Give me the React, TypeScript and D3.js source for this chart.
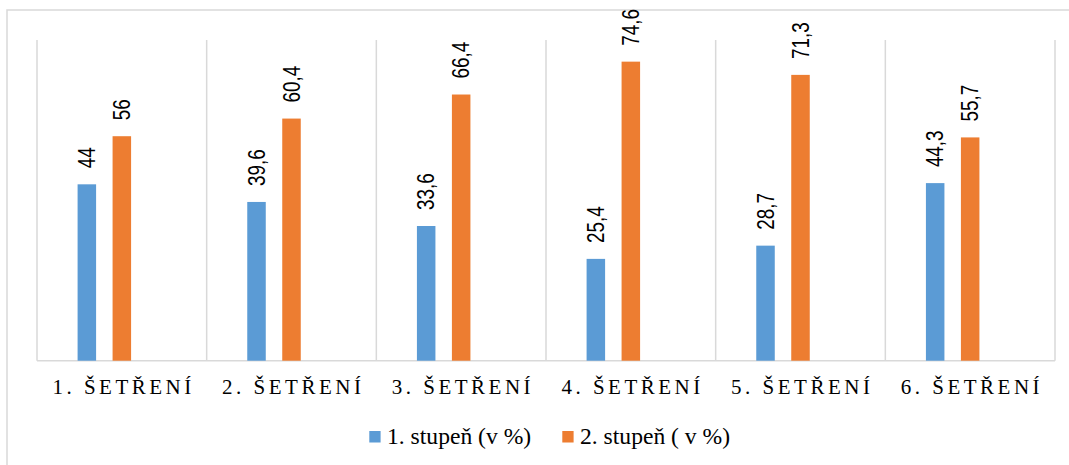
import React from "react";
import * as d3 from "d3";

const categories = ["1. ŠETŘENÍ", "2. ŠETŘENÍ", "3. ŠETŘENÍ", "4. ŠETŘENÍ", "5. ŠETŘENÍ", "6. ŠETŘENÍ"];
const series1 = [44, 39.6, 33.6, 25.4, 28.7, 44.3];
const series2 = [56, 60.4, 66.4, 74.6, 71.3, 55.7];
const seriesNames = ["1. stupeň (v %)", "2. stupeň ( v %)"];
const seriesColors = ["#5B9BD5", "#ED7D31"];
const slots = ["s1", "s2", "s3"];

const W = 1069;
const H = 465;
const plotLeft = 37;
const plotRight = 1055;
const plotTop = 40;
const plotBottom = 360.7;

export default function App() {
  const x = d3.scaleBand<string>().domain(categories).range([plotLeft, plotRight]).padding(0);
  const inner = d3
    .scaleBand<string>()
    .domain(slots)
    .range([0, x.bandwidth()])
    .paddingInner(0.471)
    .paddingOuter(1.16);
  const y = d3.scaleLinear().domain([0, 80]).range([plotBottom, plotTop]);
  const bw = inner.bandwidth();
  const grid = "#d9d9d9";
  const fmt = (v: number) => String(v).replace(".", ",");
  const allSeries = [series1, series2];
  const boundaries = categories.map((c) => x(c)!).concat([plotRight]);
  const ls = 3.5;

  return (
    <svg
      width={W}
      height={H}
      style={{ position: "absolute", left: 0, top: 0, background: "#fff" }}
    >
      <rect x={7} y={10} width={1080} height={470} fill="#fff" stroke={grid} strokeWidth={1.5} />
      {boundaries.map((bx, i) => (
        <line key={"g" + i} x1={bx} x2={bx} y1={plotTop} y2={plotBottom} stroke={grid} strokeWidth={1.5} />
      ))}
      <line x1={plotLeft} x2={plotRight} y1={plotBottom} y2={plotBottom} stroke={grid} strokeWidth={1.5} />
      {allSeries.map((vals, si) =>
        categories.map((c, ci) => {
          const bx = x(c)! + inner(slots[si])!;
          const by = y(vals[ci]);
          const cx = bx + bw / 2;
          return (
            <g key={si + "-" + ci}>
              <rect x={bx} y={by} width={bw} height={plotBottom - by} fill={seriesColors[si]} />
              <text
                transform={`translate(${cx + 8.3},${by - 16}) rotate(-90) scale(0.82,1)`}
                fontFamily="'Liberation Sans', Arial, sans-serif"
                fontSize={23}
                fill="#000"
                textAnchor="start"
              >
                {fmt(vals[ci])}
              </text>
            </g>
          );
        })
      )}
      {categories.map((c) => (
        <text
          key={c}
          x={x(c)! + x.bandwidth() / 2 + ls / 2}
          y={394.3}
          textAnchor="middle"
          fontFamily="'Liberation Serif', 'Times New Roman', serif"
          fontSize={21}
          letterSpacing={ls}
          fill="#000"
        >
          {c}
        </text>
      ))}
      {seriesNames.map((n, i) => {
        const lx = i === 0 ? 369.3 : 562.3;
        return (
          <g key={n}>
            <rect x={lx} y={431} width={11.3} height={11.5} fill={seriesColors[i]} />
            <text
              x={lx + 17.7}
              y={444}
              fontFamily="'Liberation Serif', 'Times New Roman', serif"
              fontSize={23.6}
              fill="#000"
            >
              {n}
            </text>
          </g>
        );
      })}
    </svg>
  );
}
